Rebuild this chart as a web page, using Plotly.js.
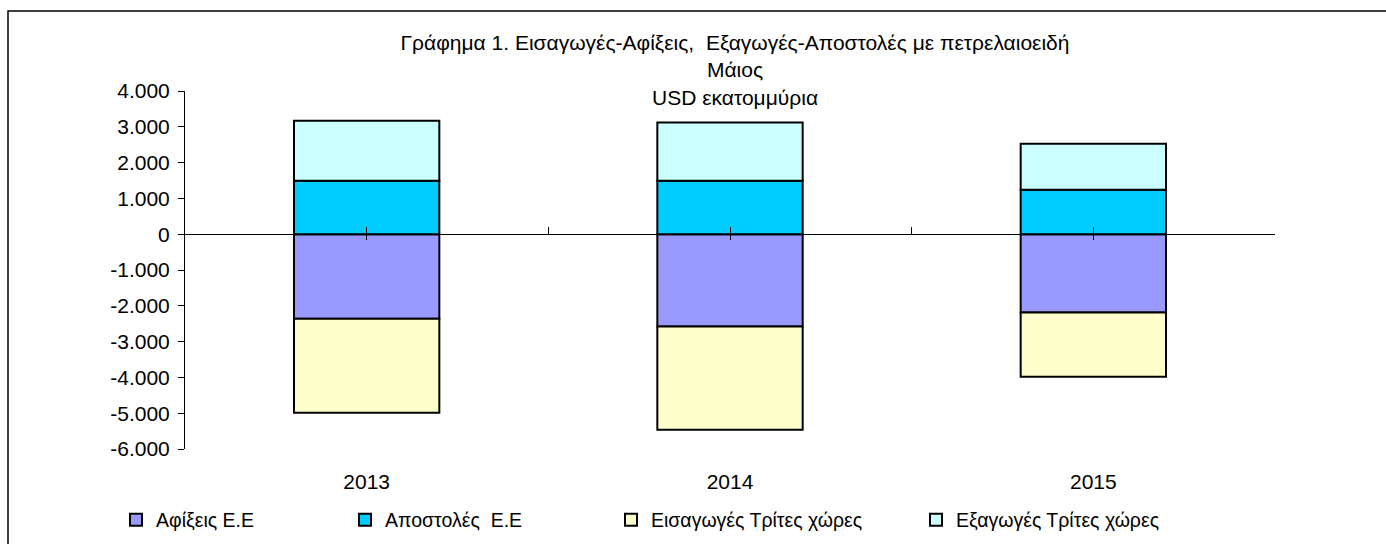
<!DOCTYPE html>
<html><head><meta charset="utf-8">
<script src="https://cdn.plot.ly/plotly-3.0.1.min.js"></script>
<style>html,body{margin:0;padding:0;background:#fff}#chart{width:1386px;height:544px}</style>
</head><body><div id="chart"></div>
<script>
const years = ['2013', '2014', '2015'];
const arrivalsEU = [-2365, -2580, -2190];
const dispatchesEU = [1490, 1490, 1240];
const importsThird = [-2620, -2885, -1790];
const exportsThird = [1680, 1630, 1290];
const seriesNames = ['Αφίξεις Ε.Ε', 'Αποστολές  Ε.Ε', 'Εισαγωγές Τρίτες χώρες', 'Εξαγωγές Τρίτες χώρες'];
const yTickVals = [4000, 3000, 2000, 1000, 0, -1000, -2000, -3000, -4000, -5000, -6000];
const yTickText = ['4.000', '3.000', '2.000', '1.000', '0', '-1.000', '-2.000', '-3.000', '-4.000', '-5.000', '-6.000'];
const titleLines = ['Γράφημα 1. Εισαγωγές-Αφίξεις,  Εξαγωγές-Αποστολές με πετρελαιοειδή', 'Μάιος', 'USD εκατομμύρια'];

const FONT = 'Liberation Sans, Arial, sans-serif';
const colors = ['#9999FF', '#00CCFF', '#FFFFCC', '#CCFFFF'];
const values = [arrivalsEU, dispatchesEU, importsThird, exportsThird];
const legendIds = ['legend', 'legend2', 'legend3', 'legend4'];

const W = 1386, H = 544;
const L = 185, R = 111, T = 91, B = 95;
const pw = W - L - R, ph = H - T - B;
const px = x => (x - L) / pw;
const py = y => (H - B - y) / ph;

const traces = values.map((v, i) => ({
  type: 'bar', x: years, y: v, name: seriesNames[i].replace('  ', ' \u00a0'),
  marker: { color: colors[i], line: { color: '#000', width: 2 } },
  legend: legendIds[i], hoverinfo: 'x+y+name'
}));
// invisible helper traces so the tick-mark axes on the zero line are drawn
const catIndex = years.map((_, i) => i);
['x2', 'x3'].forEach(ax => traces.push({
  type: 'scatter', x: catIndex, y: dispatchesEU, xaxis: ax, yaxis: 'y',
  mode: 'none', showlegend: false, hoverinfo: 'skip'
}));

const legendX = [116, 345, 611, 916];
const layout = {
  width: W, height: H,
  margin: { l: L, r: R, t: T, b: B, autoexpand: false },
  paper_bgcolor: '#fff', plot_bgcolor: 'rgba(0,0,0,0)',
  font: { family: FONT, size: 20, color: '#000' },
  separators: ',.',
  barmode: 'relative', bargap: 0.6,
  showlegend: true,
  title: {
    text: titleLines.map(s => s.replace('  ', ' \u00a0')).join('<br>'),
    font: { family: FONT, size: 21, color: '#000' },
    x: px(735), xref: 'paper', xanchor: 'center',
    y: 1 - 50 / H, yref: 'container', yanchor: 'top'
  },
  xaxis: {
    type: 'category', showline: false, ticks: '', showgrid: false, zeroline: false,
    tickfont: { family: FONT, size: 21 }, ticklabelstandoff: 18, fixedrange: true
  },
  xaxis2: {
    overlaying: 'x', anchor: 'free', position: py(234.3), type: 'linear',
    range: [-0.5, years.length - 0.5], showline: false,
    ticks: 'inside', ticklen: 7, tickcolor: '#000', tickwidth: 1,
    tickvals: catIndex.map(i => i + 0.5).concat(catIndex),
    showticklabels: false, showgrid: false, zeroline: false, fixedrange: true
  },
  xaxis3: {
    overlaying: 'x', anchor: 'free', position: py(234.3), type: 'linear',
    range: [-0.5, years.length - 0.5], showline: false,
    ticks: 'outside', ticklen: 5, tickcolor: '#000', tickwidth: 1,
    tickvals: catIndex,
    showticklabels: false, showgrid: false, zeroline: false, fixedrange: true
  },
  yaxis: {
    range: [-6000, 4000], tickvals: yTickVals, ticktext: yTickText,
    showline: true, linecolor: '#000', linewidth: 1,
    ticks: 'outside', ticklen: 6, tickcolor: '#000', tickwidth: 1,
    showgrid: false, zeroline: true, zerolinecolor: '#000', zerolinewidth: 1,
    tickfont: { family: FONT, size: 21 }, ticklabelstandoff: 4, fixedrange: true
  },
  shapes: [{
    type: 'path', xref: 'paper', yref: 'paper',
    path: `M ${px(8)} ${py(560)} L ${px(8)} ${py(11)} L ${px(1400)} ${py(11)}`,
    line: { color: '#000', width: 1.5 }
  }]
};
legendIds.forEach((id, i) => {
  layout[id] = {
    x: legendX[i] / W, xref: 'container', xanchor: 'left',
    y: 1 - 520 / H, yref: 'container', yanchor: 'middle',
    orientation: 'h', bgcolor: 'rgba(0,0,0,0)', borderwidth: 0,
    font: { family: FONT, size: 19.5 }, itemwidth: 30, itemclick: false, itemdoubleclick: false
  };
});

Plotly.newPlot('chart', traces, layout, { displayModeBar: false, staticPlot: true });
</script></body></html>
